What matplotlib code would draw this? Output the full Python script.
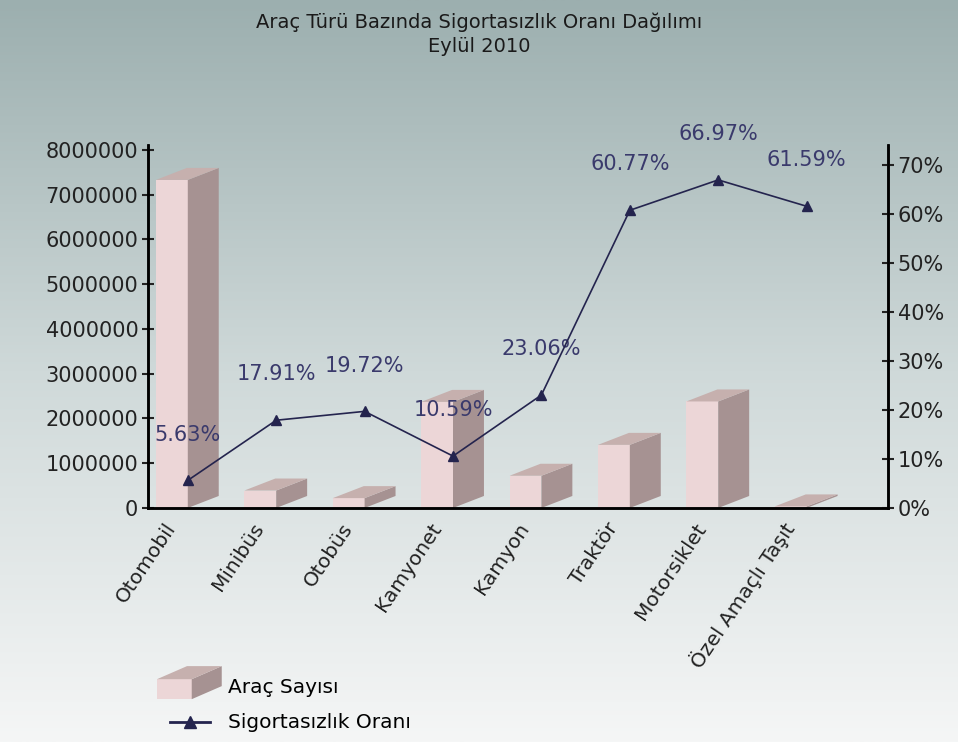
import numpy as np
import matplotlib.pyplot as plt
import matplotlib.transforms as mtransforms
from matplotlib.patches import Polygon
from matplotlib.lines import Line2D
from matplotlib.legend_handler import HandlerBase
from matplotlib.colors import LinearSegmentedColormap
from matplotlib.ticker import FuncFormatter

plt.rcParams["font.family"] = ["DejaVu Sans"]

categories = ["Otomobil", "Minibüs", "Otobüs", "Kamyonet", "Kamyon",
              "Traktör", "Motorsiklet", "Özel Amaçlı Taşıt"]
vehicle_counts = [7330000, 390000, 220000, 2370000, 720000, 1410000, 2380000, 35000]
uninsured_rates = [5.63, 17.91, 19.72, 10.59, 23.06, 60.77, 66.97, 61.59]
left_ticks = [0, 1000000, 2000000, 3000000, 4000000, 5000000, 6000000, 7000000, 8000000]
right_ticks = [0, 10, 20, 30, 40, 50, 60, 70]

FRONT = "#ecd6d7"
SIDE = "#a69292"
TOP = "#c6b0ae"
LINE = "#24244e"
LABEL = "#3a3a6c"

fig = plt.figure(figsize=(9.58, 7.42), dpi=100)

# background gradient
bg = fig.add_axes([0, 0, 1, 1], zorder=-10)
grad = LinearSegmentedColormap.from_list(
    "bg", [(0, "#f5f6f6"), (0.5, "#cfd9d9"), (1, "#9cafaf")])
bg.imshow(np.linspace(0, 1, 256).reshape(-1, 1), aspect="auto", cmap=grad,
          origin="lower", extent=[0, 1, 0, 1])
bg.axis("off")

ax = fig.add_axes([0.1545, 0.3154, 0.7724, 0.4892])
ax.set_facecolor("none")
x = np.arange(len(categories))

fw = 0.36      # front face width
dx = 0.35      # depth offset (x)
dy = 268000    # depth offset (y, in counts)

ax.bar(x - fw, vehicle_counts, width=fw, align="edge", color=FRONT, zorder=2)
for xi, v in zip(x, vehicle_counts):
    side = Polygon([(xi, 0), (xi + dx, dy), (xi + dx, v + dy), (xi, v)],
                   closed=True, fc=SIDE, ec="none", zorder=2)
    top = Polygon([(xi - fw, v), (xi, v), (xi + dx, v + dy), (xi - fw + dx, v + dy)],
                  closed=True, fc=TOP, ec="none", zorder=2)
    ax.add_patch(side)
    ax.add_patch(top)

ax.set_xlim(-0.45, 7.92)
ax.set_ylim(0, 8110000)
ax.set_yticks(left_ticks)
ax.yaxis.set_major_formatter(FuncFormatter(lambda v, p: f"{int(v)}"))
ax.set_xticks(x)
ax.set_xticklabels(categories, rotation=56, ha="right", va="center",
                   rotation_mode="anchor")
ax.tick_params(axis="x", length=0, labelsize=14.5, pad=12, colors="#222222")
shift = mtransforms.ScaledTranslation(-16 / 100, 0, fig.dpi_scale_trans)
for lbl in ax.get_xticklabels():
    lbl.set_transform(lbl.get_transform() + shift)
ax.tick_params(axis="y", direction="inout", length=8, width=1.5,
               labelsize=15, pad=3, colors="#222222")
ax.spines["top"].set_visible(False)
for s in ["left", "bottom", "right"]:
    ax.spines[s].set_linewidth(1.8)

ax2 = ax.twinx()
ax2.set_ylim(0, 74.1)
ax2.set_yticks(right_ticks)
ax2.yaxis.set_major_formatter(FuncFormatter(lambda v, p: f"{v:.0f}%"))
ax2.tick_params(axis="y", direction="inout", length=8, width=1.5,
                labelsize=15, pad=3, colors="#222222")
ax2.spines["top"].set_visible(False)
for s in ["left", "bottom", "right"]:
    ax2.spines[s].set_linewidth(1.8)

ax2.plot(x, uninsured_rates, color=LINE, lw=1.2, marker="^", ms=6.5,
         mfc=LINE, mec=LINE, zorder=5)
for xi, r in zip(x, uninsured_rates):
    ax2.annotate(f"{r:.2f}%", (xi, r), xytext=(0, 33), textcoords="offset points",
                 ha="center", va="center", fontsize=15, color=LABEL)

fig.text(0.5, 1 - 28 / 742, "Araç Türü Bazında Sigortasızlık Oranı Dağılımı",
         ha="center", va="baseline", fontsize=14, color="#1a1a1a")
fig.text(0.5, 1 - 52 / 742, "Eylül 2010",
         ha="center", va="baseline", fontsize=14, color="#1a1a1a")


class BoxHandler(HandlerBase):
    # drawn in points: front 25x14.4, depth 21.6 x 9.4
    def create_artists(self, legend, orig_handle, xdescent, ydescent,
                       width, height, fontsize, trans):
        x0 = -xdescent
        yb = -ydescent + height / 2 - 9.0
        bw, bh, ox, oy = 25.0, 14.4, 21.6, 9.4
        front = Polygon([(x0, yb), (x0 + bw, yb), (x0 + bw, yb + bh), (x0, yb + bh)],
                        fc=FRONT, ec="none", transform=trans)
        side = Polygon([(x0 + bw, yb), (x0 + bw + ox, yb + oy),
                        (x0 + bw + ox, yb + bh + oy), (x0 + bw, yb + bh)],
                       fc=SIDE, ec="none", transform=trans)
        top = Polygon([(x0, yb + bh), (x0 + bw, yb + bh),
                       (x0 + bw + ox, yb + bh + oy), (x0 + ox, yb + bh + oy)],
                      fc=TOP, ec="none", transform=trans)
        return [front, side, top]


class LineHandler(HandlerBase):
    def create_artists(self, legend, orig_handle, xdescent, ydescent,
                       width, height, fontsize, trans):
        x0, y0 = -xdescent, -ydescent
        yc = y0 + height / 2
        ln = Line2D([x0 + 9, x0 + 38], [yc, yc], color=LINE, lw=2, transform=trans)
        mk = Line2D([x0 + 23.5], [yc], marker="^", ms=9, color=LINE,
                    ls="none", transform=trans)
        return [ln, mk]


box_proxy = Polygon([(0, 0)], closed=True)
line_proxy = Line2D([], [])
fig.legend([box_proxy, line_proxy], ["Araç Sayısı", "Sigortasızlık Oranı"],
           handler_map={Polygon: BoxHandler(), Line2D: LineHandler()},
           loc="upper left", bbox_to_anchor=(0.1639, 0.092),
           frameon=False, fontsize=14.5, handlelength=3.23, handleheight=1.6,
           handletextpad=0.3, labelspacing=0.45, borderpad=0,
           borderaxespad=0)

fig.savefig("out.png", dpi=100)
